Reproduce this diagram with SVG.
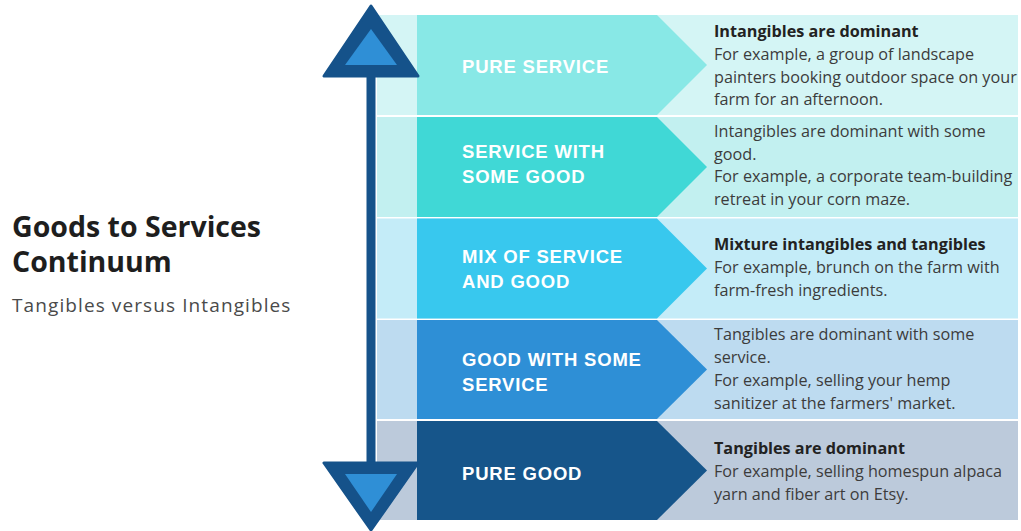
<svg xmlns="http://www.w3.org/2000/svg" width="1021" height="531" viewBox="0 0 1021 531">
<style>
.lab{font-family:"Liberation Sans",Arial,sans-serif;font-weight:700;font-size:18.5px;letter-spacing:0.8px;fill:#ffffff}
.desc{font-family:"Open Sans","Liberation Sans",sans-serif;font-size:16.2px;fill:#3c3c3c}
.desc .b{font-weight:700;fill:#222222}
.title{font-family:"Open Sans","Liberation Sans",sans-serif;font-weight:700;font-size:28.5px;fill:#1e1e1e}
.sub{font-family:"Open Sans","Liberation Sans",sans-serif;font-size:19px;letter-spacing:1.1px;fill:#4a4a4a}
.dark{fill:#15528a}
.mid{fill:#2f8fd6}
</style>
<rect width="1021" height="531" fill="#ffffff"/>

<g id="title">
<text class="title" x="12" y="237">Goods to Services</text>
<text class="title" x="12" y="272">Continuum</text>
<text class="sub" x="12" y="312">Tangibles versus Intangibles</text>
</g>

<g id="pure-service">
<rect x="377" y="15" width="641" height="100" fill="#d4f5f5"/>
<polygon points="417,15 657,15 707,65 657,115 417,115" fill="#88e8e6"/>
<text class="lab" x="462" y="73">PURE SERVICE</text>
<text class="desc" x="714"><tspan class="b" x="714" y="37">Intangibles are dominant</tspan><tspan x="714" y="60">For example, a group of landscape</tspan><tspan x="714" y="83">painters booking outdoor space on your</tspan><tspan x="714" y="105">farm for an afternoon.</tspan></text>
</g>

<g id="service-with-some-good">
<rect x="377" y="117" width="641" height="100" fill="#c2f0f0"/>
<polygon points="417,117 657,117 707,167 657,217 417,217" fill="#40d8d6"/>
<text class="lab" x="462" y="158">SERVICE WITH</text>
<text class="lab" x="462" y="183">SOME GOOD</text>
<text class="desc" x="714"><tspan x="714" y="137">Intangibles are dominant with some</tspan><tspan x="714" y="159.5">good.</tspan><tspan x="714" y="182">For example, a corporate team-building</tspan><tspan x="714" y="204.5">retreat in your corn maze.</tspan></text>
</g>

<g id="mix-of-service-and-good">
<rect x="377" y="218.5" width="641" height="100" fill="#c4ecf8"/>
<polygon points="417,218.5 657,218.5 707,268.5 657,318.5 417,318.5" fill="#38c8ee"/>
<text class="lab" x="462" y="263">MIX OF SERVICE</text>
<text class="lab" x="462" y="288">AND GOOD</text>
<text class="desc" x="714"><tspan class="b" x="714" y="250">Mixture intangibles and tangibles</tspan><tspan x="714" y="273">For example, brunch on the farm with</tspan><tspan x="714" y="296">farm-fresh ingredients.</tspan></text>
</g>

<g id="good-with-some-service">
<rect x="377" y="320" width="641" height="99" fill="#bddbf0"/>
<polygon points="417,320 657,320 707,369.5 657,419 417,419" fill="#2e8fd6"/>
<text class="lab" x="462" y="366">GOOD WITH SOME</text>
<text class="lab" x="462" y="391">SERVICE</text>
<text class="desc" x="714"><tspan x="714" y="340">Tangibles are dominant with some</tspan><tspan x="714" y="363">service.</tspan><tspan x="714" y="386">For example, selling your hemp</tspan><tspan x="714" y="409">sanitizer at the farmers' market.</tspan></text>
</g>

<g id="pure-good">
<rect x="377" y="421" width="641" height="99" fill="#bccadb"/>
<polygon points="417,421 657,421 707,470.5 657,520 417,520" fill="#16558a"/>
<text class="lab" x="462" y="480">PURE GOOD</text>
<text class="desc" x="714"><tspan class="b" x="714" y="454">Tangibles are dominant</tspan><tspan x="714" y="477">For example, selling homespun alpaca</tspan><tspan x="714" y="500">yarn and fiber art on Etsy.</tspan></text>
</g>

<g id="connectors">
<rect class="dark" x="366.5" y="70" width="9" height="398"/>
<polygon class="dark" points="371,6 324,76 418,76" stroke="#15528a" stroke-width="3" stroke-linejoin="round"/>
<polygon class="mid" points="371,29 345,65 397,65"/>
<polygon class="dark" points="324,463 418,463 371,530" stroke="#15528a" stroke-width="3" stroke-linejoin="round"/>
<polygon class="mid" points="345,474 397,474 371,512"/>
</g>
</svg>
